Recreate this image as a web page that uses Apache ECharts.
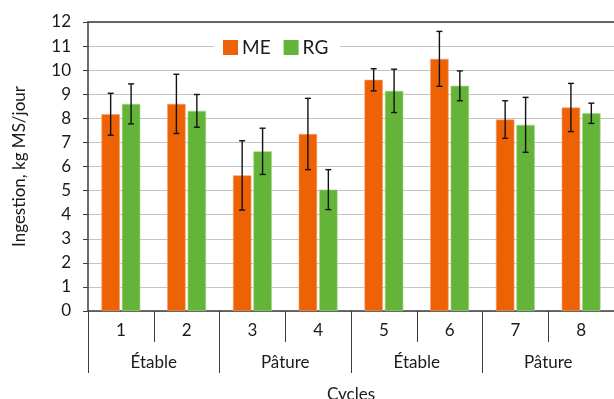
<!DOCTYPE html>
<html>
<head>
<meta charset="utf-8">
<script src="https://cdn.jsdelivr.net/npm/echarts@6/dist/echarts.min.js"></script>
<style>
  html, body { margin: 0; padding: 0; background: #fff; }
  #chart { width: 614px; height: 399px; }
</style>
</head>
<body>
<div id="chart"></div>
<script>
// Feed intake per cycle, two groups, with standard deviations
const cycles = ['1', '2', '3', '4', '5', '6', '7', '8'];
const periods = ['Étable', 'Pâture', 'Étable', 'Pâture'];
const meValues = [8.17, 8.60, 5.63, 7.35, 9.60, 10.47, 7.95, 8.45];
const meErrors = [0.87, 1.23, 1.44, 1.48, 0.46, 1.14, 0.78, 1.00];
const rgValues = [8.60, 8.31, 6.63, 5.04, 9.14, 9.35, 7.73, 8.21];
const rgErrors = [0.83, 0.68, 0.96, 0.83, 0.90, 0.62, 1.14, 0.42];
const yTicks = [0, 1, 2, 3, 4, 5, 6, 7, 8, 9, 10, 11, 12];

const FONT = 'Lato, "Open Sans", sans-serif';
const AXIS_DARK = '#3c3c3c';
const TEXT = '#1a1a1a';
const BAR_WIDTH_RATIO = 0.28;
const BAR_GAP_RATIO = 0.11;

function errorBarSeries(name, values, errors, side) {
  return {
    name: name + ' σ',
    type: 'custom',
    xAxisIndex: 0,
    z: 10,
    silent: true,
    data: values.map((v, i) => [i, v, errors[i]]),
    renderItem: function (params, api) {
      const idx = api.value(0);
      const v = api.value(1);
      const e = api.value(2);
      const band = api.size([1, 0])[0];
      const bw = band * BAR_WIDTH_RATIO;
      const offset = side * (bw * (1 + BAR_GAP_RATIO)) / 2;
      const hi = api.coord([idx, v + e]);
      const lo = api.coord([idx, v - e]);
      const x = hi[0] + offset;
      const cap = 3;
      const style = { stroke: '#111', lineWidth: 1.4 };
      return {
        type: 'group',
        children: [
          { type: 'line', shape: { x1: x, y1: hi[1], x2: x, y2: lo[1] }, style: style },
          { type: 'line', shape: { x1: x - cap, y1: hi[1], x2: x + cap, y2: hi[1] }, style: style },
          { type: 'line', shape: { x1: x - cap, y1: lo[1], x2: x + cap, y2: lo[1] }, style: style }
        ]
      };
    }
  };
}

const chart = echarts.init(document.getElementById('chart'), null, { renderer: 'canvas' });

chart.setOption({
  animation: false,
  textStyle: { fontFamily: FONT },
  grid: {
    left: 88, right: 0, top: 22, bottom: 88,
    containLabel: false,
    outerBoundsMode: 'none'
  },
  legend: {
    data: ['ME', 'RG'],
    left: 214,
    top: 34,
    itemWidth: 15,
    itemHeight: 15,
    itemGap: 13,
    padding: [4, 12, 4, 9],
    backgroundColor: '#fff',
    icon: 'rect',
    itemStyle: { borderWidth: 0 },
    textStyle: { fontFamily: FONT, fontSize: 19, color: TEXT, padding: [0, 0, 0, -1] }
  },
  xAxis: [
    {
      type: 'category',
      data: cycles,
      position: 'bottom',
      axisLine: { show: true, lineStyle: { color: AXIS_DARK, width: 1.5 } },
      axisTick: { show: true, length: 31, lineStyle: { color: AXIS_DARK, width: 1 } },
      axisLabel: { fontFamily: FONT, fontSize: 17, color: TEXT, margin: 11 },
      name: 'Cycles',
      nameLocation: 'middle',
      nameGap: 75,
      nameTextStyle: { fontFamily: FONT, fontSize: 17, color: TEXT }
    },
    {
      type: 'category',
      data: periods,
      position: 'bottom',
      axisLine: { show: false },
      axisTick: { show: true, length: 62, lineStyle: { color: AXIS_DARK, width: 1 } },
      axisLabel: { fontFamily: FONT, fontSize: 17, color: TEXT, margin: 43 },
      splitLine: { show: false }
    },
    {
      type: 'category',
      data: cycles,
      position: 'top',
      axisLine: { show: true, lineStyle: { color: AXIS_DARK, width: 1.5 } },
      axisTick: { show: false },
      axisLabel: { show: false }
    }
  ],
  yAxis: {
    type: 'value',
    min: yTicks[0],
    max: yTicks[yTicks.length - 1],
    interval: 1,
    name: 'Ingestion, kg MS/jour',
    nameLocation: 'middle',
    nameGap: 60,
    nameTextStyle: { fontFamily: FONT, fontSize: 17, color: TEXT },
    axisLine: { show: true, lineStyle: { color: AXIS_DARK, width: 1.5 } },
    axisTick: { show: true, inside: false, length: 5, lineStyle: { color: AXIS_DARK } },
    axisLabel: { fontFamily: FONT, fontSize: 17, color: TEXT, margin: 17 },
    splitLine: { show: true, lineStyle: { color: '#c4c4c4', width: 1.2 } }
  },
  series: [
    {
      name: 'ME',
      type: 'bar',
      xAxisIndex: 0,
      data: meValues,
      barWidth: (BAR_WIDTH_RATIO * 100) + '%',
      barGap: (BAR_GAP_RATIO * 100) + '%',
      itemStyle: { color: '#ed6205', borderColor: '#f6a070', borderWidth: 0.6 }
    },
    {
      name: 'RG',
      type: 'bar',
      xAxisIndex: 0,
      data: rgValues,
      barWidth: (BAR_WIDTH_RATIO * 100) + '%',
      barGap: (BAR_GAP_RATIO * 100) + '%',
      itemStyle: { color: '#65b43a', borderColor: '#a6d68c', borderWidth: 0.6 }
    },
    errorBarSeries('ME', meValues, meErrors, -1),
    errorBarSeries('RG', rgValues, rgErrors, 1)
  ]
});
</script>
</body>
</html>
